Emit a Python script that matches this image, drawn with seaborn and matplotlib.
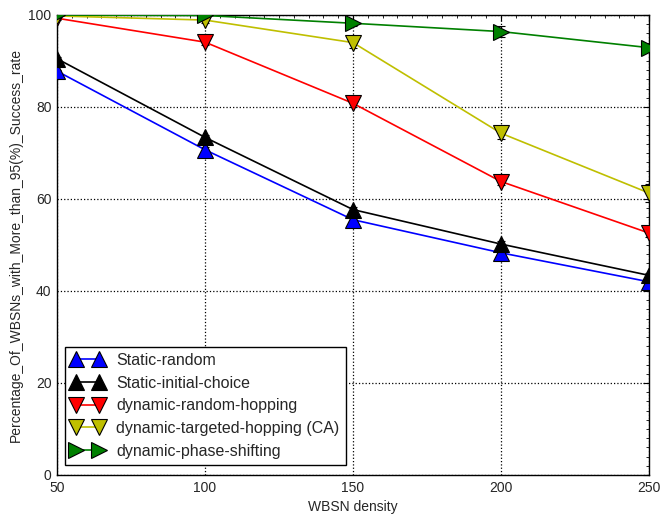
import numpy as np
import pandas as pd
import matplotlib
matplotlib.use("Agg")
import matplotlib.pyplot as plt
import seaborn as sns
from matplotlib.ticker import AutoMinorLocator

density = [50, 100, 150, 200, 250]

static_random = [87.8, 70.7, 55.5, 48.3, 42.0]
static_initial = [90.5, 73.4, 57.7, 50.2, 43.4]
dyn_random_hop = [99.3, 94.1, 80.8, 63.8, 52.6]
dyn_targeted_hop = [99.8, 98.9, 94.0, 74.3, 61.3]
dyn_phase_shift = [100.0, 99.9, 98.2, 96.4, 92.9]

err_random = [0.3, 0.5, 0.6, 0.6, 0.6]
err_initial = [0.3, 0.5, 0.6, 0.6, 0.6]
err_random_hop = [0.3, 0.6, 0.7, 0.7, 0.8]
err_targeted_hop = [0.3, 0.6, 1.2, 1.3, 2.0]
err_phase_shift = [0.2, 0.4, 0.6, 1.2, 0.6]

labels = ["Static-random", "Static-initial-choice", "dynamic-random-hopping",
          "dynamic-targeted-hopping (CA)", "dynamic-phase-shifting"]
series = [static_random, static_initial, dyn_random_hop, dyn_targeted_hop, dyn_phase_shift]
errors = [err_random, err_initial, err_random_hop, err_targeted_hop, err_phase_shift]
colors = ["#0000ff", "#000000", "#ff0000", "#bfbf00", "#008000"]
markers = ["^", "^", "v", "v", ">"]

sns.set_style("white")
plt.rcParams["font.family"] = ["Liberation Sans", "DejaVu Sans"]

fig = plt.figure(figsize=(6.61, 5.18), dpi=100)
ax = fig.add_axes([57 / 661, 1 - 475 / 518, 592 / 661, 460 / 518])

for lab, vals, err, col, mk in zip(labels, series, errors, colors, markers):
    df = pd.DataFrame({"density": density, "rate": vals})
    ax.errorbar(density, vals, yerr=err, fmt="none", ecolor="k",
                elinewidth=0.8, capsize=3, capthick=0.8, zorder=2)
    sns.lineplot(data=df, x="density", y="rate", ax=ax, color=col, marker=mk,
                 markersize=12, markeredgecolor="k", markeredgewidth=0.8,
                 linewidth=1.2, label=lab, zorder=3)

ax.set_xlim(50, 250)
ax.set_ylim(0, 100)
ax.set_xticks([50, 100, 150, 200, 250])
ax.set_yticks([0, 20, 40, 60, 80, 100])
ax.xaxis.set_minor_locator(AutoMinorLocator(10))
ax.yaxis.set_minor_locator(AutoMinorLocator(10))
ax.tick_params(which="both", direction="in", top=True, right=True, labelsize=10,
               color="k", pad=4)
ax.tick_params(which="major", length=4, width=0.8)
ax.tick_params(which="minor", length=2, width=0.6)
ax.grid(True, which="major", color="k", linestyle=":", linewidth=0.9)
for sp in ax.spines.values():
    sp.set_visible(True)
    sp.set_color("k")
    sp.set_linewidth(1.0)

ax.set_xlabel("WBSN density", fontsize=10, labelpad=4)
ax.set_ylabel("Percentage_Of_WBSNs_with_More_than_95(%)_Success_rate", fontsize=10, labelpad=4)

leg = ax.legend(loc="lower left", bbox_to_anchor=(8 / 592, 10 / 460), fontsize=11.5,
                numpoints=2, frameon=True, fancybox=False, edgecolor="k",
                borderpad=0.4, labelspacing=0.48, handlelength=2.0, handletextpad=0.8,
                borderaxespad=0.0)
leg.get_frame().set_linewidth(1.0)
leg.get_frame().set_alpha(1.0)

fig.savefig("out.png", dpi=100)
